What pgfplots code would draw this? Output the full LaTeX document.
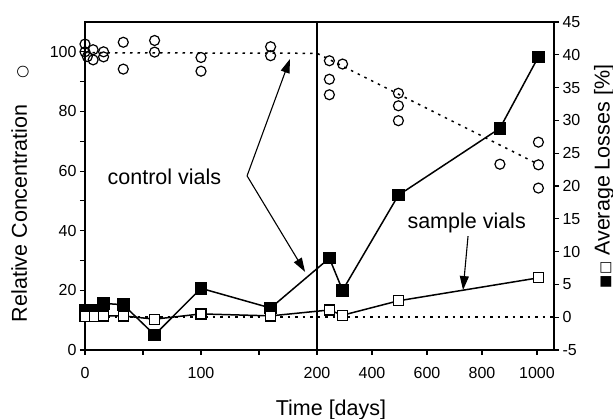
\documentclass[border=0pt]{standalone}
\usepackage{fontspec}
\setmainfont{Liberation Sans}
\newfontfamily\sym{DejaVu Sans}
\usepackage{pgfplots}
\pgfplotsset{compat=1.18}
\usetikzlibrary{arrows.meta}

% broken time axis: 0-200 d linear, then 200-1000 d compressed
\pgfplotsset{
  common/.style={
    scale only axis, width=469pt, height=328pt,
    xmin=0, xmax=404.3,
    x filter/.expression={x<=200 ? x : 200+(x-200)*0.2371},
    clip mode=individual,
    tick align=outside, major tick length=5pt, minor tick length=5pt,
    tick style={line width=1.1pt, black},
    axis line style={line width=1.5pt},
    ticklabel style={font=\fontsize{16}{16}\selectfont},
    /pgf/number format/assume math mode=true,
  },
}
\tikzset{ann/.style={line width=1.1pt, -{Triangle[length=14pt,width=9pt]}}}

\begin{document}
\begin{tikzpicture}
\useasboundingbox (-85pt,-69pt) rectangle (528pt,350pt);

\begin{axis}[common,
    ymin=0, ymax=110,
    ytick={0,20,...,100}, minor ytick={10,30,...,90},
    ytick pos=left, xtick pos=left,
    xtick={0,50,100,150,200,247.41,294.82,342.23,389.64},
    xticklabels={0,,100,,200,400,600,800,1000},
    xticklabel style={yshift=-9pt},
    xlabel={Time [days]},
    xlabel style={font=\fontsize{21.5}{21.5}\selectfont, at={(axis description cs:0.5245,-0.183)}, anchor=center},
    ylabel={Relative Concentration\hspace{1.2em}{\sym\fontsize{15}{15}\selectfont ○}},
    ylabel style={font=\fontsize{21.5}{21.5}\selectfont, at={(axis description cs:-0.1386,0.476)}, anchor=center},
]
% control vials
\addplot[only marks, mark=o, mark size=5pt, mark options={line width=1.2pt}] coordinates {
(0,102.6) (0,100) (2,98.4) (7,100.7) (7,97.3) (16,100) (16,98.3)
(33,103.2) (33,94.2) (60,103.8) (60,99.9) (100,98.1) (100,93.5)
(160,101.7) (160,98.7) (245,97) (245,90.8) (245,85.6) (293,95.9)
(496,86.1) (496,81.9) (496,76.9) (865,62.3) (1005,69.7) (1005,62.1) (1005,54.3)
};
\addplot[line width=1.5pt, dash pattern=on 2.5pt off 5pt] coordinates {
(0,99.7) (200,99.5) (1000,62.5)
};
% axis break
\addplot[line width=1.5pt] coordinates {(200,0) (200,110)};

\node[font=\fontsize{21.5}{21.5}\selectfont] at (axis cs:68.5,58) {control vials};
\draw[ann] (axis cs:139.7,58.4) -- (axis cs:176.7,97.6);
\draw[ann] (axis cs:139.7,58.4) -- (axis cs:189.7,26.2);
\node[font=\fontsize{21.5}{21.5}\selectfont] at (axis cs:329,42.6) {sample vials};
\draw[ann] (axis cs:330.2,38.2) -- (axis cs:325.9,20.1);
\end{axis}

\begin{axis}[common,
    ymin=-5, ymax=45,
    ytick={-5,0,...,45},
    axis x line=none, axis y line*=right, ytick pos=right,
    ylabel={{\sym\fontsize{14}{14}\selectfont ■□} Average Losses [\%]},
    ylabel style={font=\fontsize{21.5}{21.5}\selectfont, at={(axis description cs:1.1066,0.529)}, anchor=center},
]
\addplot[line width=1.5pt, dash pattern=on 2.5pt off 5pt] coordinates {(0,0) (1062,0)};
% sample vials, average losses
\addplot[line width=1.5pt, mark=square*, mark size=5.5pt, mark options={fill=black, solid}] coordinates {
(0,1.0) (8,1.0) (16,2.1) (33,1.9) (60,-2.7) (100,4.4) (160,1.4)
(245,9.0) (293,4.1) (496,18.6) (865,28.8) (1005,39.7)
};
\addplot[line width=1.5pt, mark=square*, mark size=5pt, mark options={fill=white, line width=1.3pt}] coordinates {
(0,0.1) (8,0.1) (16,0.2) (33,0.2) (60,-0.3) (100,0.5) (160,0.2)
(245,1.1) (293,0.3) (496,2.5) (1005,6.0)
};
\end{axis}
\end{tikzpicture}
\end{document}
